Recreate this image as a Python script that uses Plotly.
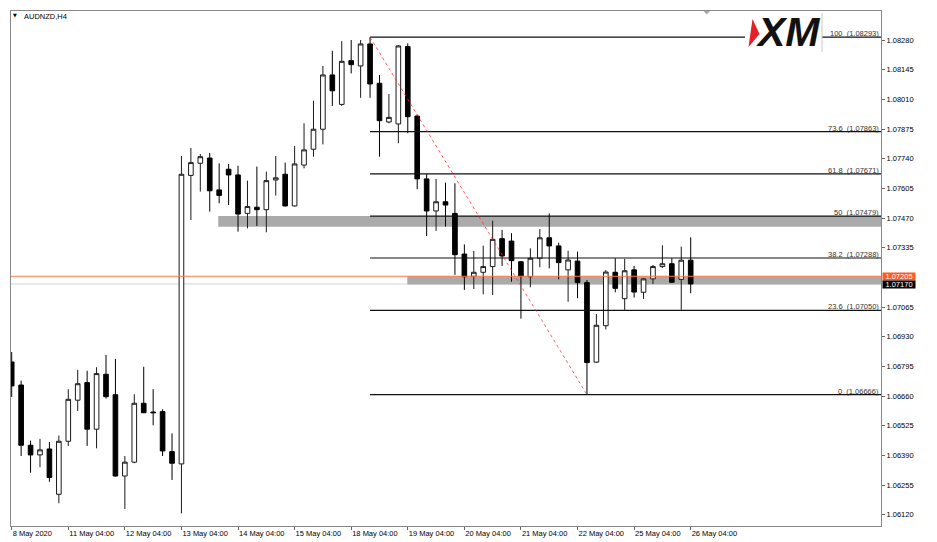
import plotly.graph_objects as go

# ---------------- data (AUDNZD H4) ----------------
BAR_INDEX = list(range(73))
OPEN = [1.06815, 1.06710, 1.06436, 1.06392, 1.06419, 1.06213, 1.06454, 1.06641, 1.06721, 1.06509,
        1.06759, 1.06666, 1.06296, 1.06359, 1.06627, 1.06587, 1.06589, 1.06407, 1.06351, 1.07664,
        1.07719, 1.07743, 1.07598, 1.07692, 1.07666, 1.07491, 1.07519, 1.07508, 1.07643, 1.07669,
        1.07525, 1.07711, 1.07783, 1.07874, 1.08121, 1.07987, 1.08186, 1.08162, 1.08262, 1.08083,
        1.07907, 1.07898, 1.08250, 1.07934, 1.07648, 1.07502, 1.07544, 1.07491, 1.07306, 1.07205,
        1.07223, 1.07249, 1.07376, 1.07365, 1.07271, 1.07203, 1.07287, 1.07380, 1.07343, 1.07234,
        1.07274, 1.07176, 1.06814, 1.06980, 1.07223, 1.07103, 1.07234, 1.07132, 1.07193, 1.07249,
        1.07262, 1.07191, 1.07278]
HIGH = [1.06860, 1.06730, 1.06457, 1.06465, 1.06451, 1.06480, 1.06691, 1.06779, 1.06775, 1.06791,
        1.06847, 1.06829, 1.06387, 1.06668, 1.06793, 1.06691, 1.06600, 1.06490, 1.07752, 1.07789,
        1.07761, 1.07766, 1.07719, 1.07716, 1.07708, 1.07640, 1.07704, 1.07681, 1.07752, 1.07722,
        1.07798, 1.07901, 1.08004, 1.08162, 1.08231, 1.08275, 1.08280, 1.08280, 1.08293, 1.08121,
        1.08034, 1.08257, 1.08265, 1.07940, 1.07670, 1.07648, 1.07631, 1.07628, 1.07350, 1.07320,
        1.07344, 1.07458, 1.07416, 1.07401, 1.07274, 1.07332, 1.07420, 1.07491, 1.07358, 1.07321,
        1.07317, 1.07188, 1.07033, 1.07233, 1.07287, 1.07284, 1.07252, 1.07197, 1.07256, 1.07346,
        1.07287, 1.07340, 1.07382]
LOW = [1.06656, 1.06387, 1.06311, 1.06336, 1.06270, 1.06172, 1.06433, 1.06592, 1.06433, 1.06422,
       1.06648, 1.06293, 1.06146, 1.06354, 1.06583, 1.06527, 1.06387, 1.06278, 1.06126, 1.07461,
       1.07590, 1.07499, 1.07537, 1.07529, 1.07408, 1.07423, 1.07434, 1.07405, 1.07572, 1.07522,
       1.07522, 1.07696, 1.07749, 1.07805, 1.07980, 1.07980, 1.08128, 1.08017, 1.08017, 1.07749,
       1.07901, 1.07810, 1.07856, 1.07601, 1.07388, 1.07411, 1.07431, 1.07211, 1.07143, 1.07147,
       1.07123, 1.07120, 1.07252, 1.07180, 1.07012, 1.07155, 1.07246, 1.07241, 1.07191, 1.07089,
       1.07105, 1.06666, 1.06810, 1.06963, 1.07132, 1.07052, 1.07108, 1.07102, 1.07170, 1.07243,
       1.07175, 1.07052, 1.07128]
CLOSE = [1.06706, 1.06436, 1.06392, 1.06415, 1.06289, 1.06454, 1.06645, 1.06716, 1.06509, 1.06762,
         1.06657, 1.06296, 1.06359, 1.06627, 1.06584, 1.06584, 1.06410, 1.06354, 1.07669, 1.07722,
         1.07749, 1.07594, 1.07573, 1.07666, 1.07488, 1.07522, 1.07508, 1.07640, 1.07653, 1.07525,
         1.07716, 1.07780, 1.07874, 1.08121, 1.08049, 1.08183, 1.08168, 1.08262, 1.08080, 1.07913,
         1.07928, 1.08253, 1.07931, 1.07648, 1.07502, 1.07544, 1.07529, 1.07303, 1.07203, 1.07223,
         1.07249, 1.07373, 1.07297, 1.07276, 1.07206, 1.07287, 1.07380, 1.07343, 1.07267, 1.07279,
         1.07176, 1.06812, 1.06982, 1.07224, 1.07150, 1.07230, 1.07133, 1.07193, 1.07249, 1.07262,
         1.07178, 1.07278, 1.07170]

X_TICK_INDEX = [0, 6, 12, 18, 24, 30, 36, 42, 48, 54, 60, 66, 72]
X_TICK_LABELS = ["8 May 2020", "11 May 04:00", "12 May 04:00", "13 May 04:00", "14 May 04:00",
                 "15 May 04:00", "18 May 04:00", "19 May 04:00", "20 May 04:00", "21 May 04:00",
                 "22 May 04:00", "25 May 04:00", "26 May 04:00"]
Y_TICKS = [1.08280, 1.08145, 1.08010, 1.07875, 1.07740, 1.07605, 1.07470, 1.07335,
           1.07065, 1.06930, 1.06795, 1.06660, 1.06525, 1.06390, 1.06255, 1.06120]

FIB_LEVELS = ["100", "73.6", "61.8", "50", "38.2", "23.6", "0"]
FIB_PRICES = [1.08293, 1.07863, 1.07671, 1.07479, 1.07288, 1.07050, 1.06666]
FIB_START = 38

TREND_X = [38, 61]
TREND_Y = [1.08293, 1.06666]

ZONE_START = [21.9, 41.95]
ZONE_TOP = [1.07479, 1.07205]
ZONE_BOTTOM = [1.07430, 1.07168]

ORANGE_LEVEL = 1.07205
BID_LEVEL = 1.07170
SYMBOL = "AUDNZD,H4"

X_RANGE = [-0.074, 92.18]
Y_RANGE = [1.060685, 1.08412]

# ---------------- figure ----------------
# the page places the figure 8px in from the top-left corner (body margin)
OFF = 8
W, H = 937 - OFF, 542 - OFF
PL, PT, PR, PB = 11, 11, 881, 526          # plot area in window pixels
ML, MT = PL - OFF, PT - OFF
MR, MB = W - (PR - OFF), H - (PB - OFF)
PW, PH = PR - PL, PB - PT


def px(x):
    return (x - PL) / PW


def py(y):
    return 1 - (y - PT) / PH


FONT = "Liberation Sans"

fig = go.Figure()
fig.add_trace(go.Candlestick(
    x=BAR_INDEX, open=OPEN, high=HIGH, low=LOW, close=CLOSE,
    increasing=dict(line=dict(color="#1a1a1a", width=1), fillcolor="#ffffff"),
    decreasing=dict(line=dict(color="#000000", width=1), fillcolor="#000000"),
    whiskerwidth=0, hoverinfo="skip", showlegend=False,
))

shapes = []
# bid line (light gray) and zones behind candles
shapes.append(dict(type="line", xref="paper", yref="y", x0=0, x1=1, y0=BID_LEVEL, y1=BID_LEVEL,
                   line=dict(color="#d4d4d4", width=1), layer="below"))
for xs, yt, yb in zip(ZONE_START, ZONE_TOP, ZONE_BOTTOM):
    shapes.append(dict(type="rect", xref="x", yref="y", x0=xs, x1=X_RANGE[1], y0=yb, y1=yt,
                       fillcolor="#aaaaaa", line=dict(width=0), layer="below"))
# fibonacci lines
for p in FIB_PRICES:
    shapes.append(dict(type="line", xref="x", yref="y", x0=FIB_START, x1=X_RANGE[1], y0=p, y1=p,
                       line=dict(color="#111111", width=1.2), layer="above"))
# trend line
shapes.append(dict(type="line", xref="x", yref="y", x0=TREND_X[0], x1=TREND_X[1],
                   y0=TREND_Y[0], y1=TREND_Y[1],
                   line=dict(color="rgba(255,40,40,0.75)", width=1, dash="dot"), layer="above"))
# orange horizontal line
shapes.append(dict(type="line", xref="paper", yref="y", x0=0, x1=1, y0=ORANGE_LEVEL, y1=ORANGE_LEVEL,
                   line=dict(color="#ff7a45", width=1), layer="above"))
# logo background, border, red mark
shapes.append(dict(type="rect", xref="paper", yref="paper", x0=px(745), x1=px(822), y0=py(52), y1=py(13),
                   fillcolor="#ffffff", line=dict(width=0), layer="above"))
shapes.append(dict(type="line", xref="paper", yref="paper", x0=px(822), x1=px(822), y0=py(52), y1=py(13),
                   line=dict(color="#c8c8c8", width=1), layer="above"))
shapes.append(dict(type="path", xref="paper", yref="paper",
                   path=f"M {px(752.5)} {py(19)} L {px(759.5)} {py(34)} L {px(748.5)} {py(47)} Z",
                   fillcolor="#e3202a", line=dict(width=0), layer="above"))
# shift marker triangle at top
shapes.append(dict(type="path", xref="paper", yref="paper",
                   path=f"M {px(703.5)} {py(11)} L {px(710)} {py(11)} L {px(706.7)} {py(14.5)} Z",
                   fillcolor="#a8a8a8", line=dict(width=0), layer="above"))

annotations = []
for lvl, p in zip(FIB_LEVELS, FIB_PRICES):
    annotations.append(dict(xref="paper", yref="y", x=1, y=p, xanchor="right", yanchor="bottom",
                            text=f"{lvl}  ({p:.5f})", showarrow=False, xshift=0, yshift=-3,
                            font=dict(family=FONT, size=7.5, color="#333333")))
annotations.append(dict(xref="paper", yref="y", x=1, y=ORANGE_LEVEL, xanchor="left", yanchor="middle",
                        text=f"{ORANGE_LEVEL:.5f}", showarrow=False, xshift=1, width=32, height=7,
                        bgcolor="#ff5a1f", borderpad=0,
                        font=dict(family=FONT, size=7.5, color="#ffffff")))
annotations.append(dict(xref="paper", yref="y", x=1, y=BID_LEVEL, xanchor="left", yanchor="middle",
                        text=f"{BID_LEVEL:.5f}", showarrow=False, xshift=1, yshift=-1, width=32, height=7,
                        bgcolor="#000000", borderpad=0,
                        font=dict(family=FONT, size=7.5, color="#ffffff")))
annotations.append(dict(xref="paper", yref="paper", x=px(21.5), y=py(16.5), xanchor="left", yanchor="middle",
                        text=SYMBOL, showarrow=False,
                        font=dict(family=FONT, size=7.5, color="#000000")))
annotations.append(dict(xref="paper", yref="paper", x=px(15), y=py(15.5), xanchor="center", yanchor="middle",
                        text="▼", showarrow=False,
                        font=dict(family="DejaVu Sans", size=5, color="#000000")))
annotations.append(dict(xref="paper", yref="paper", x=px(787.5), y=py(32), xanchor="center", yanchor="middle",
                        text="XM", showarrow=False,
                        font=dict(family=FONT, size=41, color="#111111", weight="bold", style="italic")))

fig.update_layout(
    width=W, height=H,
    margin=dict(l=ML, r=MR, t=MT, b=MB, pad=0, autoexpand=False),
    paper_bgcolor="#ffffff", plot_bgcolor="#ffffff",
    showlegend=False, hovermode=False,
    shapes=shapes, annotations=annotations,
    font=dict(family=FONT, size=7.5, color="#000000"),
    xaxis=dict(range=X_RANGE, rangeslider=dict(visible=False), showgrid=False, zeroline=False,
               automargin=False,
               tickmode="array", tickvals=X_TICK_INDEX, ticktext=X_TICK_LABELS,
               ticks="outside", ticklen=3, tickcolor="#666666",
               ticklabelposition="outside right",
               showline=True, linecolor="#888888", linewidth=1, mirror=True,
               tickfont=dict(family=FONT, size=7.5, color="#000000")),
    yaxis=dict(range=Y_RANGE, side="right", showgrid=False, zeroline=False,
               automargin=False,
               tickmode="array", tickvals=Y_TICKS, ticktext=[f"{v:.5f}" for v in Y_TICKS],
               ticks="outside", ticklen=3, tickcolor="#666666",
               showline=True, linecolor="#888888", linewidth=1, mirror=True,
               tickfont=dict(family=FONT, size=7.5, color="#000000")),
)

fig.write_html("out.html")
